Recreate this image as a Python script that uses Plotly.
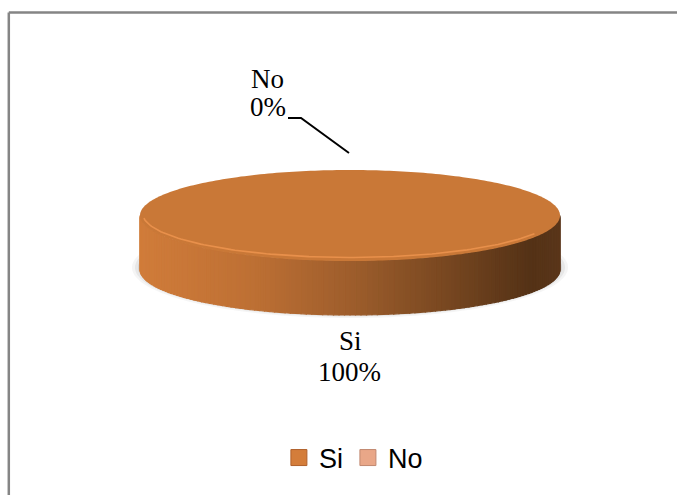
import numpy as np
import plotly.graph_objects as go

# ---- data ----
categories = ["Si", "No"]
values = [100, 0]
percent_labels = ["100%", "0%"]

# ---- styles / geometry (pixel space) ----
W, H = 677, 495
CX, CY, RX, RY, DEPTH = 350.0, 215.5, 210.0, 45.5, 54.0
top_colors = ["#C97837", "#E8A27C"]
legend_colors = ["#D47D3A", "#E9A788"]
side_stops = [(140, (208, 124, 58)), (250, (190, 112, 52)), (350, (158, 94, 44)),
              (450, (118, 70, 32)), (530, (84, 50, 22)), (560, (90, 54, 26))]


def side_color(x):
    xs = [s[0] for s in side_stops]
    rgb = [np.interp(x, xs, [s[1][k] for s in side_stops]) for k in range(3)]
    return "rgb(%d,%d,%d)" % tuple(int(round(v)) for v in rgb)


def ept(t, dy=0.0, rx=RX, ry=RY):
    return CX + rx * np.cos(t), CY + ry * np.sin(t) + dy


fig = go.Figure()

# soft shadow under the disc
for grow, alpha in [(10, 0.05), (7, 0.07), (4, 0.09)]:
    t = np.linspace(0, 2 * np.pi, 200)
    x, y = ept(t, dy=DEPTH - 2, rx=RX + grow - 2, ry=RY + grow / 2)
    fig.add_trace(go.Scatter(x=x, y=y, fill="toself", mode="none",
                             fillcolor="rgba(60,60,60,%.2f)" % alpha,
                             hoverinfo="skip", showlegend=False))

total = float(sum(values))
cum = np.concatenate([[0], np.cumsum(values)]) / total
start = -np.pi / 2

# side walls (front half only), drawn as thin strips for the gradient
for i, v in enumerate(values):
    if v <= 0:
        continue
    a0 = start + 2 * np.pi * cum[i]
    a1 = start + 2 * np.pi * cum[i + 1]
    for base in (0.0, 2 * np.pi, -2 * np.pi):
        lo, hi = max(a0, base), min(a1, base + np.pi)
        if hi <= lo:
            continue
        n = 120
        ts = np.linspace(lo, hi, n + 1)
        for j in range(n):
            tt = np.linspace(ts[j], ts[j + 1], 3)
            xt, yt = ept(tt)
            xb, yb = ept(tt[::-1], dy=DEPTH)
            xm = float(np.mean(xt))
            col = side_color(xm)
            fig.add_trace(go.Scatter(x=np.r_[xt, xb, xt[0]], y=np.r_[yt, yb, yt[0]],
                                     fill="toself", mode="lines", fillcolor=col,
                                     line=dict(color=col, width=1.2),
                                     hoverinfo="skip", showlegend=False))

# top faces
for i, v in enumerate(values):
    if v <= 0:
        continue
    a0 = start + 2 * np.pi * cum[i]
    a1 = start + 2 * np.pi * cum[i + 1]
    tt = np.linspace(a0, a1, 300)
    x, y = ept(tt)
    if v < total:
        x = np.r_[CX, x, CX]
        y = np.r_[CY, y, CY]
    fig.add_trace(go.Scatter(x=x, y=y, fill="toself", mode="none",
                             fillcolor=top_colors[i], hoverinfo="skip",
                             showlegend=False))

# bevel highlight along the front rim
tt = np.linspace(0.15 * np.pi, 0.97 * np.pi, 120)
x, y = ept(tt, dy=-1.5, rx=RX - 3, ry=RY - 2)
fig.add_trace(go.Scatter(x=x, y=y, mode="lines",
                         line=dict(color="rgba(240,150,80,0.8)", width=1.6),
                         hoverinfo="skip", showlegend=False))

# legend entries
for i, c in enumerate(categories):
    fig.add_trace(go.Scatter(x=[None], y=[None], mode="markers", name=c,
                             marker=dict(symbol="square", size=16, color=legend_colors[i],
                                         line=dict(color="#B0602A" if i == 0 else "#C08870", width=1))))

serif = dict(family="Liberation Serif", size=27, color="black")
annotations = [
    dict(x=350, y=341, text=categories[0], showarrow=False, xanchor="center",
         yanchor="middle", font=serif),
    dict(x=349, y=372, text=percent_labels[0], showarrow=False, xanchor="center",
         yanchor="middle", font=serif),
    dict(x=286, y=79, text=categories[1], showarrow=False, xanchor="right",
         yanchor="middle", font=serif),
    dict(x=288, y=107, text=percent_labels[1], showarrow=False, xanchor="right",
         yanchor="middle", font=serif),
]

shapes = [
    dict(type="path", path="M 288 118 L 301 118 L 349 153", xref="x", yref="y",
         line=dict(color="black", width=2)),
    dict(type="line", xref="paper", yref="paper", x0=0.013, x1=1.0, y0=1 - 12.5 / H, y1=1 - 12.5 / H,
         line=dict(color="#858585", width=2.5)),
    dict(type="line", xref="paper", yref="paper", x0=0.013, x1=0.013, y0=0, y1=1 - 12.5 / H,
         line=dict(color="#858585", width=2.5)),
]

fig.update_layout(
    width=W, height=H, margin=dict(l=0, r=0, t=0, b=0),
    paper_bgcolor="white", plot_bgcolor="white",
    xaxis=dict(range=[0, W], visible=False, fixedrange=True),
    yaxis=dict(range=[H, 0], visible=False, fixedrange=True),
    annotations=annotations, shapes=shapes,
    showlegend=True,
    legend=dict(orientation="h", x=0.522, y=1 - 458 / H, xanchor="center", yanchor="middle",
                font=dict(family="Liberation Sans", size=27, color="black"),
                itemwidth=30, bgcolor="rgba(0,0,0,0)"),
)

fig.write_html("out.html")
